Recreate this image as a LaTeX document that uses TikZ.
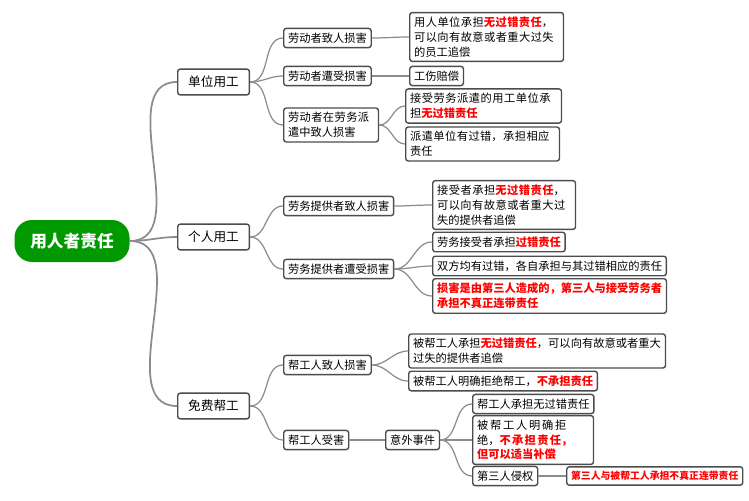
\documentclass[tikz,border=0pt]{standalone}
\usepackage{fontspec}
\setmainfont{Noto Sans CJK SC}
\XeTeXlinebreaklocale "zh"
\XeTeXlinebreakskip=0pt plus 1pt
\usetikzlibrary{positioning}
\tikzset{
  box/.style={draw=black!70, rounded corners=1.5pt, line width=0.8pt, fill=white,
    anchor=west, inner sep=2.5pt, align=left, font=\fontsize{6.4}{8.4}\selectfont},
  topic/.style={box, font=\fontsize{7.2}{9}\selectfont, inner xsep=6pt, inner ysep=4pt},
  link/.style={draw=black!45, line width=0.7pt},
}
\newcommand{\hot}[1]{\textcolor{red}{\textbf{#1}}}
\begin{document}
\begin{tikzpicture}[x=0.02cm, y=-0.02cm]
  \useasboundingbox (0,0) rectangle (749,500);

  % root
  \node[fill=green!60!black, text=white, rounded corners=10pt, minimum width=115*0.02cm,
        minimum height=42*0.02cm, font=\fontsize{9.5}{11}\selectfont\bfseries] (root) at (72,241) {用人者责任};

  % main branches
  \node[topic] (unit) at (177,82) {单位用工};
  \node[topic] (pers) at (177,237) {个人用工};
  \node[topic] (free) at (177,406) {免费帮工};

  % 单位用工
  \node[box] (u1) at (283,38) {劳动者致人损害};
  \node[box] (u2) at (283,76) {劳动者遭受损害};
  \node[box, text width=86*0.02cm] (u3) at (283,125) {劳动者在劳务派遣中致人损害};
  \node[box, text width=145*0.02cm] (u1a) at (409,37) {用人单位承担\hot{无过错责任}，可以向有故意或者重大过失的员工追偿};
  \node[box] (u2a) at (409,76) {工伤赔偿};
  \node[box, text width=147*0.02cm] (u3a) at (405,106) {接受劳务派遣的用工单位承担\hot{无过错责任}};
  \node[box, text width=145*0.02cm] (u3b) at (405,144) {派遣单位有过错，承担相应责任};

  % 个人用工
  \node[box] (p1) at (283,206) {劳务提供者致人损害};
  \node[box] (p2) at (283,269) {劳务提供者遭受损害};
  \node[box, text width=134*0.02cm] (p1a) at (432,205) {接受者承担\hot{无过错责任}，可以向有故意或者重大过失的提供者追偿};
  \node[box] (p2a) at (432,242) {劳务接受者承担\hot{过错责任}};
  \node[box] (p2b) at (432,266) {双方均有过错，各自承担与其过错相应的责任};
  \node[box, text width=225*0.02cm] (p2c) at (432,296) {\hot{损害是由第三人造成的，第三人与接受劳务者承担不真正连带责任}};

  % 免费帮工
  \node[box] (f1) at (283,365) {帮工人致人损害};
  \node[box] (f2) at (283,440) {帮工人受害};
  \node[box, text width=248*0.02cm] (f1a) at (408,351) {被帮工人承担\hot{无过错责任}，可以向有故意或者重大过失的提供者追偿};
  \node[box] (f1b) at (408,381) {被帮工人明确拒绝帮工，\hot{不承担责任}};
  \node[box] (f2a) at (385,440) {意外事件};
  \node[box] (f2a1) at (472,404) {帮工人承担无过错责任};
  \node[box, text width=112*0.02cm] (f2a2) at (472,440) {被帮工人明确拒绝，\hot{不承担责任，但可以适当补偿}};
  \node[box] (f2a3) at (472,476) {第三人侵权};
  \node[box, font=\fontsize{5.6}{7}\selectfont] (f2a4) at (566,476) {\hot{第三人与被帮工人承担不真正连带责任}};

  % connectors
  \foreach \a/\b in {root/unit, root/pers, root/free}
    \draw[link, line width=1pt] (\a.east) to[out=0, in=180] (\b.west);
  \foreach \a/\b in {unit/u1, unit/u2, unit/u3, u1/u1a, u2/u2a, u3/u3a, u3/u3b,
                     pers/p1, pers/p2, p1/p1a, p2/p2a, p2/p2b, p2/p2c,
                     free/f1, free/f2, f1/f1a, f1/f1b, f2/f2a,
                     f2a/f2a1, f2a/f2a2, f2a/f2a3, f2a3/f2a4}
    \draw[link] (\a.east) to[out=0, in=180] (\b.west);
\end{tikzpicture}
\end{document}
